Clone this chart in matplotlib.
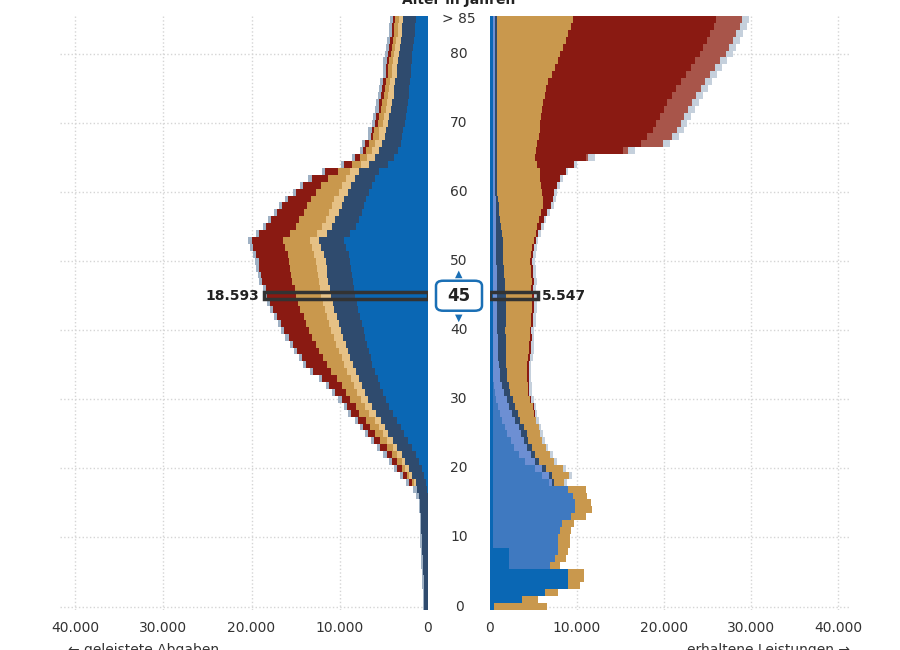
import numpy as np
import matplotlib.pyplot as plt
from matplotlib.patches import FancyBboxPatch, Rectangle

ages = np.arange(86)

# left side: geleistete Abgaben (Tsd. Euro)
l_blue = [0]*16 + [0.05, 0.1, 0.2, 0.4,
          0.7, 1.0, 1.4, 1.8, 2.3, 2.7, 3.1, 3.5, 4.0, 4.4,
          4.8, 5.1, 5.4, 5.7, 6.0, 6.3, 6.5, 6.7, 6.9, 7.1,
          7.3, 7.5, 7.7, 7.9, 8.1, 8.3, 8.4, 8.5, 8.6, 8.7,
          8.8, 9.0, 9.3, 9.5, 8.8, 8.2, 7.8, 7.5, 7.2, 7.0,
          6.7, 6.3, 6.0, 5.5, 4.5, 3.8, 3.4, 3.1, 2.9, 2.8,
          2.6, 2.5, 2.4, 2.3, 2.2, 2.1, 2.0, 1.9, 1.9, 1.8,
          1.8, 1.7, 1.6, 1.5, 1.5, 1.4]
l_slate = [0.4, 0.4, 0.45, 0.5, 0.5, 0.55, 0.6, 0.6, 0.65, 0.7,
           0.7, 0.75, 0.8, 0.8, 0.85, 0.9, 1.0, 1.1, 1.2, 1.4,
           1.5, 1.6, 1.6, 1.7, 1.7, 1.8, 1.8, 1.8, 1.9, 1.9,
           2.0, 2.0, 2.1, 2.1, 2.2, 2.2, 2.3, 2.4, 2.4, 2.5,
           2.6, 2.6, 2.6, 2.7, 2.7, 2.7, 2.7, 2.8, 2.8, 2.8,
           2.8, 2.8, 2.8, 2.8, 2.7, 2.7, 2.7, 2.6, 2.6, 2.5,
           2.4, 2.4, 2.3, 2.3, 2.2, 2.2, 2.1, 2.1, 2.0, 2.0,
           1.9, 1.9, 1.8, 1.8, 1.7, 1.7, 1.7, 1.6, 1.6, 1.6,
           1.5, 1.5, 1.5, 1.4, 1.4, 1.4]
l_ltan = [0]*17 + [0.1, 0.2, 0.3,
          0.4, 0.4, 0.5, 0.5, 0.6, 0.6, 0.7, 0.7, 0.8, 0.8,
          0.8, 0.9, 0.9, 0.9, 1.0, 1.0, 1.0, 1.0, 1.1, 1.1] + [1.1]*20 + \
         [1.0, 1.0, 1.0, 1.0, 0.9, 0.9, 0.8, 0.8, 0.7, 0.7] + [0.6]*10 + [0.5]*6
l_tan = [0]*18 + [0.2, 0.3,
         0.4, 0.5, 0.6, 0.7, 0.8, 0.9, 1.0, 1.0, 1.1, 1.1,
         1.2, 1.3, 1.4, 1.6, 1.8, 2.0, 2.1, 2.2, 2.3, 2.4,
         2.5, 2.6, 2.7, 2.8, 2.8, 2.9, 2.9, 3.0, 3.0, 3.0,
         3.0, 3.0, 3.0, 3.0, 3.0, 3.0, 3.0, 2.9, 2.8, 2.7,
         2.6, 2.4, 2.0, 1.4, 1.0, 0.8, 0.7, 0.7, 0.6, 0.6,
         0.6, 0.6, 0.5, 0.5, 0.5, 0.5, 0.5, 0.4, 0.4, 0.4] + [0.4]*6
l_red = [0]*18 + [0.3, 0.4,
         0.5, 0.6, 0.6, 0.7, 0.7, 0.8, 0.8, 0.9, 0.9, 1.0,
         1.0, 1.2, 1.4, 1.7, 2.0, 2.3, 2.4, 2.5, 2.6, 2.7,
         2.8, 2.9, 3.0, 3.1, 3.2, 3.3, 3.3, 3.4, 3.4, 3.5,
         3.5, 3.6, 3.6, 3.6, 3.5, 3.4, 3.2, 3.0, 2.8, 2.6,
         2.3, 2.1, 1.9, 1.5, 0.9, 0.6, 0.4, 0.4, 0.3, 0.3] + [0.3]*16
l_edge = [0.15]*16 + [0.35]*70

# right side: erhaltene Leistungen (Tsd. Euro)
r_dark = [0.5, 3.7, 6.3, 9.0, 9.0, 9.0, 2.2, 2.2, 2.2, 0.3] + [0.3]*76
r_mid = [0]*6 + [4.7, 5.3, 5.6, 7.5,
         7.5, 7.7, 8.0, 9.0, 9.5, 9.5, 9.2, 8.7, 6.5, 5.7,
         4.9, 3.7, 3.0, 2.5, 2.1, 1.7, 1.4, 1.1, 0.8, 0.6,
         0.4, 0.3, 0.2, 0.1, 0.1, 0.1, 0.1, 0.1, 0.1, 0.1] + [0.05]*46
r_light = [0]*18 + [0.3, 0.8,
           0.8, 1.2, 1.4, 1.5, 1.5, 1.6, 1.6, 1.5, 1.4, 1.3,
           1.2, 1.0, 0.9, 0.8, 0.7, 0.6, 0.5, 0.5, 0.5, 0.5] + \
          [0.5]*6 + [0.4]*4 + [0.3]*10 + [0.2]*26
r_slate = [0]*18 + [0.2, 0.3,
           0.4, 0.4, 0.5, 0.5, 0.5, 0.6, 0.6, 0.6, 0.7, 0.7,
           0.7, 0.7, 0.8, 0.8, 0.8, 0.8, 0.9, 0.9, 0.9, 0.9,
           0.9, 1.0, 1.0, 1.0, 1.0, 1.0, 1.0, 1.0, 0.9, 0.9,
           0.9, 0.9, 0.8, 0.8, 0.7, 0.6, 0.5, 0.4, 0.4, 0.3] + [0.25]*26
r_tan = [6.1, 1.8, 1.5, 1.3, 1.8, 1.8, 1.2, 1.2, 1.2, 1.4,
         1.4, 1.3, 1.3, 1.7, 1.9, 1.8, 1.7, 2.0, 1.2, 2.0,
         2.0, 1.8, 1.7, 1.6, 1.6, 1.6, 1.7, 1.8, 1.9, 2.0,
         2.0, 2.1, 2.2, 2.3, 2.4, 2.5, 2.6, 2.7, 2.7, 2.8,
         2.8, 2.9, 2.9, 3.0, 3.0, 3.0, 3.0, 3.1, 3.1, 3.1,
         3.1, 3.2, 3.4, 3.6, 3.9, 4.2, 4.5, 4.8, 5.0, 5.1,
         5.2, 5.1, 5.0, 4.9, 4.6, 4.4, 4.5, 4.6, 4.8, 4.9,
         5.0, 5.1, 5.2, 5.3, 5.5, 5.6, 5.9, 6.3, 6.7, 7.0,
         7.3, 7.6, 7.9, 8.2, 8.5, 8.7]
r_red = [0]*28 + [0.05, 0.1,
         0.1, 0.1, 0.1, 0.15, 0.15, 0.15, 0.2, 0.2, 0.2, 0.2] + [0.2]*10 + \
        [0.2, 0.2, 0.2, 0.2, 0.3, 0.4, 0.5, 0.7, 1.0, 1.2,
         1.4, 1.8, 2.3, 3.0, 4.2, 5.8, 10.0, 12.0, 12.5, 13.0,
         13.3, 13.6, 14.0, 14.3, 14.6, 15.0, 15.2, 15.4, 15.6, 15.8,
         16.0, 16.1, 16.2, 16.3, 16.4, 16.5]
r_lred = [0]*64 + [0.1, 0.3, 0.6, 2.5, 2.8, 2.8] + [2.8]*10 + [3.0]*6
r_edge = [0.0]*18 + [0.3]*47 + [0.8]*21

sel_age, sel_left, sel_right = 45, 18.593, 5.547

left_series = [(l_blue, "#0a67b4"), (l_slate, "#2f4b6e"), (l_ltan, "#e6c185"),
               (l_tan, "#c9984d"), (l_red, "#8a1a12"), (l_edge, "#9fb1c4")]
right_series = [(r_dark, "#0a67b4"), (r_mid, "#3f79c0"), (r_light, "#6d8fd3"),
                (r_slate, "#2f4b6e"), (r_tan, "#c9984d"), (r_red, "#8a1a12"),
                (r_lred, "#a8554a"), (r_edge, "#c5d0dc")]

fig = plt.figure(figsize=(9, 6.5), dpi=100)
b, h = 1 - 610 / 650, (610 - 16) / 650
axl = fig.add_axes([60 / 900, b, 368 / 900, h])
axr = fig.add_axes([490 / 900, b, 360 / 900, h])

for ax, series, xmax in [(axl, left_series, 368 / 8.825), (axr, right_series, 360 / 8.7)]:
    base = np.zeros(86)
    for vals, col in series:
        vals = np.array(vals, dtype=float)
        ax.barh(ages, vals, left=base, height=1.0, color=col, linewidth=0, zorder=2)
        base += vals
    ax.set_ylim(-0.5, 85.5)
    ax.set_xlim(0, xmax)
    ax.set_yticks([])
    ax.set_xticks([0, 10, 20, 30, 40])
    ax.set_xticklabels(["0", "10.000", "20.000", "30.000", "40.000"], fontsize=10, color="#333333")
    ax.tick_params(axis="x", length=0, pad=8)
    for s in ax.spines.values():
        s.set_visible(False)
    for xv in [10, 20, 30, 40]:
        ax.axvline(xv, color="#d5d5d5", ls=":", lw=1, zorder=0)
    for yv in range(0, 90, 10):
        ax.axhline(yv, color="#d5d5d5", ls=":", lw=1, zorder=0)
axl.invert_xaxis()

# highlighted age
axl.add_patch(Rectangle((0, sel_age - 0.5), sel_left, 1.0, fill=False,
                        ec="#333333", lw=2.5, zorder=5))
axl.text(sel_left + 0.5, sel_age, f"{sel_left:,.3f}".replace(",", "."), ha="right", va="center",
         fontsize=10, fontweight="bold", color="#222222")
axr.add_patch(Rectangle((0, sel_age - 0.5), sel_right, 1.0, fill=False,
                        ec="#333333", lw=2.5, zorder=5))
axr.text(sel_right + 0.4, sel_age, f"{sel_right:,.3f}".replace(",", "."), ha="left", va="center",
         fontsize=10, fontweight="bold", color="#222222")


# middle age labels
def age_y(a):
    return b + h * (a + 0.5) / 86


for a in range(0, 90, 10):
    fig.text(459 / 900, age_y(a), str(a), ha="center", va="center", fontsize=10, color="#333333")
fig.text(459 / 900, age_y(85), "> 85", ha="center", va="center", fontsize=10, color="#333333")
fig.patches.append(FancyBboxPatch((436 / 900, age_y(sel_age) - 15 / 650), 46 / 900, 30 / 650,
                                  boxstyle="round,pad=0,rounding_size=0.008",
                                  transform=fig.transFigure, fc="white", ec="#1a6fb5", lw=1.8))
fig.text(459 / 900, age_y(sel_age), str(sel_age), ha="center", va="center",
         fontsize=12, fontweight="bold", color="#222222")
fig.text(459 / 900, age_y(sel_age) + 22 / 650, "▲", ha="center", va="center", fontsize=7, color="#1a6fb5")
fig.text(459 / 900, age_y(sel_age) - 22 / 650, "▼", ha="center", va="center", fontsize=7, color="#1a6fb5")

fig.text(459 / 900, 1.0, "Alter in Jahren", ha="center", va="center", fontsize=10,
         fontweight="bold", color="#222222")
fig.text(68 / 900, 0.0, "← geleistete Abgaben", ha="left", va="center", fontsize=10, color="#333333")
fig.text(850 / 900, 0.0, "erhaltene Leistungen →", ha="right", va="center", fontsize=10, color="#333333")

fig.savefig("out.png", dpi=100)
